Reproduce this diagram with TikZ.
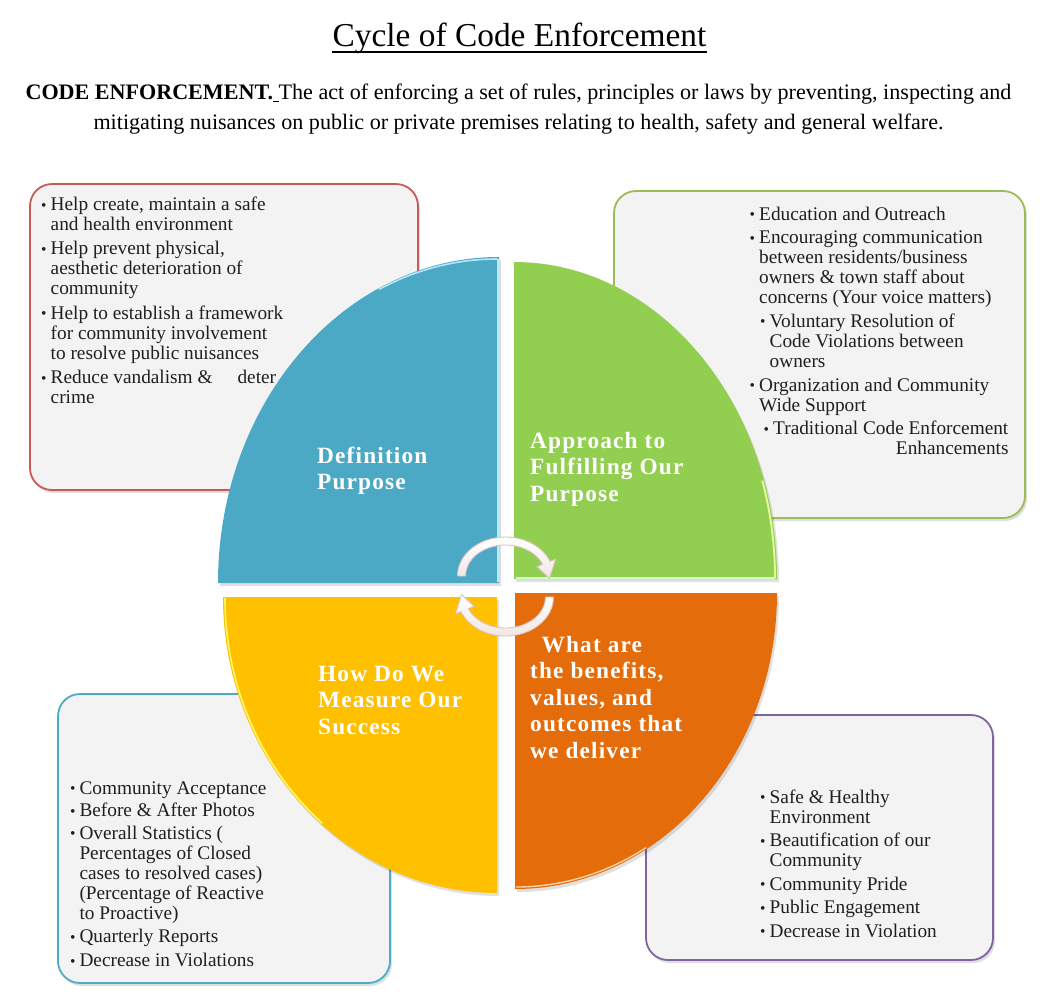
\documentclass[tikz,border=0pt]{standalone}
\usepackage{fontspec}
\setmainfont{Liberation Serif}
\newfontfamily\labfont[LetterSpace=5]{Liberation Serif}
\usepackage{graphicx}
\usetikzlibrary{calc,shadows}
\definecolor{qblue}{HTML}{4BA9C6}
\definecolor{qgreen}{HTML}{92CF50}
\definecolor{qorange}{HTML}{E46C0A}
\definecolor{qyellow}{HTML}{FFC000}
\definecolor{bred}{HTML}{C85A58}
\definecolor{bgreen}{HTML}{9BBB59}
\definecolor{bteal}{HTML}{4BACC6}
\definecolor{bpurple}{HTML}{8064A2}
\definecolor{boxfill}{HTML}{F3F3F3}
\definecolor{arrowline}{HTML}{D9C4C4}
\definecolor{arrowfill}{HTML}{F2E6E6}
\newcommand\bul{\makebox[9.5pt][l]{\raisebox{0.5pt}{\scalebox{0.8}{\textbullet}}}}
\newcommand\ind{\hspace*{9.5pt}}
\tikzset{
  infobox/.style={rounded corners=22pt, fill=boxfill, line width=1.8pt,
    drop shadow={shadow xshift=2pt, shadow yshift=-3pt, opacity=0.25}},
  boxtext/.style={anchor=base west, inner sep=0pt, align=left, text=black!88,
    font=\fontsize{19.3}{20}\selectfont},
  quadlabel/.style={anchor=base west, inner sep=0pt, align=left, text=white,
    font=\labfont\bfseries\fontsize{23.3}{26.5}\selectfont},
  quadshadow/.style={fill=black, opacity=0.12},
  cyclearrow/.style={draw=arrowline, line width=0.9pt, top color=white, bottom color=arrowfill},
}
\begin{document}
\begin{tikzpicture}[x=1pt,y=1pt]
\useasboundingbox[fill=white] (0,0) rectangle (1051,-999);

% title and definition (anchor = baseline of the last line)
\node[anchor=base, inner sep=0pt, font=\fontsize{33.4}{36}\selectfont] (title) at (519.5,-46.7) {Cycle of Code Enforcement};
\draw[line width=1.8pt] ($(title.base west)+(0,-5)$) -- ($(title.base east)+(0,-5)$);
\node[anchor=base, inner sep=0pt, align=center, font=\fontsize{22.1}{30}\selectfont] (defn) at (518.5,-129.3)
  {\textbf{CODE ENFORCEMENT.}\underline{\ }The act of enforcing a set of rules, principles or laws by preventing, inspecting and\\
   mitigating nuisances on public or private premises relating to health, safety and general welfare.};

% boxes
\draw[infobox, draw=bred] (30,-184) rectangle (418,-490);
\draw[infobox, draw=bgreen] (614,-191) rectangle (1025,-518);
\draw[infobox, draw=bteal] (58,-694) rectangle (390,-983);
\draw[infobox, draw=bpurple] (646,-715) rectangle (993,-960);

\node[boxtext] (t1) at (41,-403.5) {\bul Help create, maintain a safe\\ \ind and health environment\\[4.3pt]
  \bul Help prevent physical,\\ \ind aesthetic deterioration of\\ \ind community\\[4.3pt]
  \bul Help to establish a framework\\ \ind for community involvement\\ \ind to resolve public nuisances\\[4.3pt]
  \bul Reduce vandalism \&\hspace{25pt}deter\\ \ind crime};

\node[boxtext] (t2) at (749.5,-454.5) {\bul Education and Outreach\\[3.8pt]
  \bul Encouraging communication\\ \ind between residents/business\\ \ind owners \& town staff about\\ \ind concerns (Your voice matters)\\[3.4pt]
  \hspace*{10.5pt}\bul Voluntary Resolution of\\ \hspace*{20pt}Code Violations between\\ \hspace*{20pt}owners\\[4pt]
  \bul Organization and Community\\ \ind Wide Support\\[3.3pt]
  \hspace*{14pt}\bul Traditional Code Enforcement\\ \makebox[258.8pt][r]{Enhancements}};

\node[boxtext] (t3) at (69.8,-966.7) {\bul Community Acceptance\\[2.7pt]
  \bul Before \& After Photos\\[2.6pt]
  \bul Overall Statistics (\\ \ind Percentages of Closed\\ \ind cases to resolved cases)\\ \ind (Percentage of Reactive\\ \ind to Proactive)\\[3.4pt]
  \bul Quarterly Reports\\[4pt]
  \bul Decrease in Violations};

\node[boxtext] (t4) at (760,-937) {\bul Safe \& Healthy\\ \ind Environment\\[3.5pt]
  \bul Beautification of our\\ \ind Community\\[3.5pt]
  \bul Community Pride\\[3.5pt]
  \bul Public Engagement\\[3.5pt]
  \bul Decrease in Violation};

% quadrant soft shadows
\fill[quadshadow] (501,-586) -- (220,-586) arc[start angle=180, end angle=90, x radius=281, y radius=326] -- cycle;
\fill[quadshadow] (516,-582) -- (516,-265) arc[start angle=90, end angle=0, x radius=263, y radius=317] -- cycle;
\fill[quadshadow] (517,-596) -- (779,-596) arc[start angle=0, end angle=-90, x radius=262, y radius=296] -- cycle;
\fill[quadshadow] (499,-600) -- (499,-896) arc[start angle=270, end angle=180, x radius=274, y radius=296] -- cycle;
% quadrants
\fill[qblue] (499,-583) -- (218,-583) arc[start angle=180, end angle=90, x radius=281, y radius=326] -- cycle;
\fill[qgreen] (514,-579) -- (514,-262) arc[start angle=90, end angle=0, x radius=263, y radius=317] -- cycle;
\fill[qorange] (515,-593) -- (777,-593) arc[start angle=0, end angle=-90, x radius=262, y radius=296] -- cycle;
\fill[qyellow] (497,-597) -- (497,-893) arc[start angle=270, end angle=180, x radius=274, y radius=296] -- cycle;
% bevel highlights
\draw[cyan!25!white, line width=1.4pt] (498,-582) -- (498,-259);
\draw[cyan!30!white, line width=1.6pt] (497,-259) arc[start angle=90, end angle=115, x radius=279, y radius=324];
\draw[green!20!white, line width=1.4pt] (775,-578) -- (516,-578);
\draw[green!25!yellow!40!white, line width=1.8pt] (775,-578) arc[start angle=0, end angle=18, x radius=261, y radius=315];
\draw[yellow!60!white, line width=1.6pt] (225,-598) arc[start angle=180, end angle=230, x radius=272, y radius=294];
\draw[orange!35!white, line width=1.4pt] (516,-887) arc[start angle=270, end angle=300, x radius=260, y radius=294];

% labels
\node[quadlabel] (l1) at (317,-489.5) {Definition\\Purpose};
\node[quadlabel] (l2) at (530,-501.4) {Approach to\\Fulfilling Our\\Purpose};
\node[quadlabel] (l3) at (318,-734.4) {How Do We\\Measure Our\\Success};
\node[quadlabel] (l4) at (530,-758.4) {\hspace*{11.4pt}What are\\the benefits,\\values, and\\outcomes that\\we deliver};

% cycle arrows
\coordinate (U) at (505.5,-576);
\coordinate (L) at (505.5,-597);
\path[cyclearrow] ($(U)+(180:48 and 39)$) arc[start angle=180, end angle=22, x radius=48, y radius=39]
  -- ($(U)+(22:54 and 45)$) -- ($(U)+(-4:44 and 35)$) -- ($(U)+(22:34 and 25)$)
  -- ($(U)+(22:40 and 31)$) arc[start angle=22, end angle=180, x radius=40, y radius=31] -- cycle;
\path[cyclearrow] ($(L)+(0:48 and 39)$) arc[start angle=0, end angle=-158, x radius=48, y radius=39]
  -- ($(L)+(-158:54 and 45)$) -- ($(L)+(176:44 and 35)$) -- ($(L)+(-158:34 and 25)$)
  -- ($(L)+(-158:40 and 31)$) arc[start angle=-158, end angle=0, x radius=40, y radius=31] -- cycle;
\end{tikzpicture}
\end{document}
